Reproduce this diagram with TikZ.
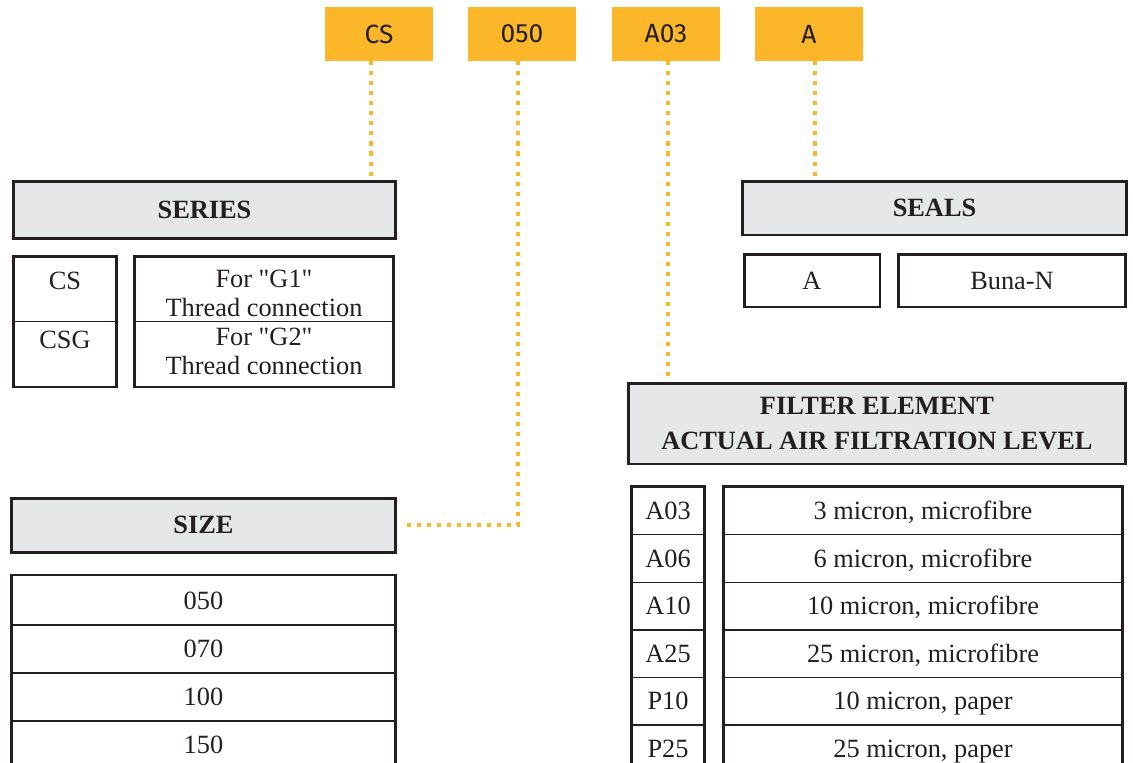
\documentclass[tikz,border=0pt]{standalone}
\usepackage{fontspec}
\setmainfont{Liberation Serif}
\newfontfamily\plainserif{Liberation Serif}
\newfontfamily\codefont{Fira Sans}

\definecolor{codeorange}{HTML}{FBB62A}
\definecolor{headgray}{HTML}{E6E7E8}
\definecolor{ink}{HTML}{231F20}

\begin{document}
\begin{tikzpicture}[x=0.02cm, y=-0.02cm,
    codebox/.style={fill=codeorange, minimum width=2.16cm, minimum height=1.08cm,
        inner sep=0pt, text=ink, font=\codefont\fontsize{15}{15}\selectfont},
    headbox/.style={draw=ink, fill=headgray, line width=1.7pt, inner sep=0pt,
        text=ink, align=center, font=\bfseries\fontsize{15}{19.8}\selectfont},
    cellbox/.style={draw=ink, line width=1.7pt, inner sep=0pt},
    rule/.style={draw=ink, line width=0.8pt},
    multitxt/.style={inner sep=0pt, text=ink, align=center, font=\plainserif\fontsize{15}{16.5}\selectfont},
    txt/.style={multitxt, text height=10pt, text depth=0pt},
    dotline/.style={draw=codeorange, line width=2.3pt, dash pattern=on 2.3pt off 3.4pt}]
    \pgfmathsetmacro{\rowh}{47.6}
    \pgfmathsetmacro{\ftop}{487}
    \pgfmathsetmacro{\sztop}{577}

    \useasboundingbox (0,0) rectangle (1133,762);
    \clip (0,0) rectangle (1133,762);

    % order code
    \node[codebox] (cCS) at (379,34) {CS};
    \node[codebox] (c050) at (522,34) {050};
    \node[codebox] (cA03) at (666,34) {A03};
    \node[codebox] (cA) at (809,34) {A};

    % headers
    \node[headbox, minimum width=7.64cm, minimum height=1.14cm] (series) at (204.5,210) {SERIES};
    \node[headbox, minimum width=7.68cm, minimum height=1.08cm] (seals) at (934.5,208) {SEALS};
    \node[headbox, minimum width=9.96cm, minimum height=1.62cm] (filter) at (877,423.5)
        {FILTER ELEMENT\\ACTUAL AIR FILTRATION LEVEL};
    \node[headbox, minimum width=7.7cm, minimum height=1.08cm] (size) at (203.5,525) {SIZE};

    % series
    \node[cellbox, minimum width=2.08cm, minimum height=2.62cm] (sercode) at (65,321.5) {};
    \node[cellbox, minimum width=5.2cm, minimum height=2.62cm] (serdesc) at (264,321.5) {};
    \draw[rule] (sercode.west) -- (sercode.east);
    \draw[rule] (serdesc.west) -- (serdesc.east);
    \node[txt] (sc1) at (65,281) {CS};
    \node[txt] (sc2) at (65,340) {CSG};
    \node[multitxt] (sd1) at (264,293) {For "G1"\\Thread connection};
    \node[multitxt] (sd2) at (264,351) {For "G2"\\Thread connection};

    % seals
    \node[cellbox, minimum width=2.72cm, minimum height=1.06cm] (sealcode) at (812,280.5) {};
    \node[cellbox, minimum width=4.54cm, minimum height=1.06cm] (sealdesc) at (1012,280.5) {};
    \node[txt] at (sealcode) {A};
    \node[txt] at (sealdesc) {Buna-N};

    % filter element
    \node[cellbox, minimum width=1.46cm, minimum height=6.3cm, anchor=north] (fcode) at (668,485) {};
    \node[cellbox, minimum width=8.0cm, minimum height=6.3cm, anchor=north] (fdesc) at (923,485) {};
    \foreach \code/\desc [count=\i] in {A03/{3 micron, microfibre}, A06/{6 micron, microfibre},
        A10/{10 micron, microfibre}, A25/{25 micron, microfibre},
        P10/{10 micron, paper}, P25/{25 micron, paper}} {
        \pgfmathsetmacro{\ymid}{\ftop+(\i-0.5)*\rowh}
        \pgfmathsetmacro{\ylow}{\ftop+\i*\rowh}
        \node[txt] (fc\i) at (668,\ymid) {\code};
        \node[txt] (fd\i) at (923,\ymid) {\desc};
        \draw[rule] (fcode.west |- 0,\ylow) -- (fcode.east |- 0,\ylow);
        \draw[rule] (fdesc.west |- 0,\ylow) -- (fdesc.east |- 0,\ylow);
    }

    % size
    \node[cellbox, minimum width=7.68cm, minimum height=4.4cm, anchor=north] (sztab) at (203.5,573.5) {};
    \foreach \sz [count=\i] in {050,070,100,150} {
        \pgfmathsetmacro{\ymid}{\sztop+(\i-0.5)*48}
        \pgfmathsetmacro{\ylow}{\sztop+\i*48}
        \node[txt] (sz\i) at (203.5,\ymid) {\sz};
        \draw[rule] (sztab.west |- 0,\ylow) -- (sztab.east |- 0,\ylow);
    }

    % dotted leaders
    \coordinate (dCS) at ([xshift=-0.16cm]cCS.south);
    \coordinate (d050) at ([xshift=-0.08cm]c050.south);
    \coordinate (dA03) at ([xshift=0.04cm]cA03.south);
    \coordinate (dA) at ([xshift=0.12cm]cA.south);
    \draw[dotline] (dCS) -- (dCS |- series.north);
    \draw[dotline, shorten >=2.5pt] (d050) |- (size.east);
    \draw[dotline] (dA03) -- (dA03 |- filter.north);
    \draw[dotline] (dA) -- (dA |- seals.north);
\end{tikzpicture}
\end{document}
